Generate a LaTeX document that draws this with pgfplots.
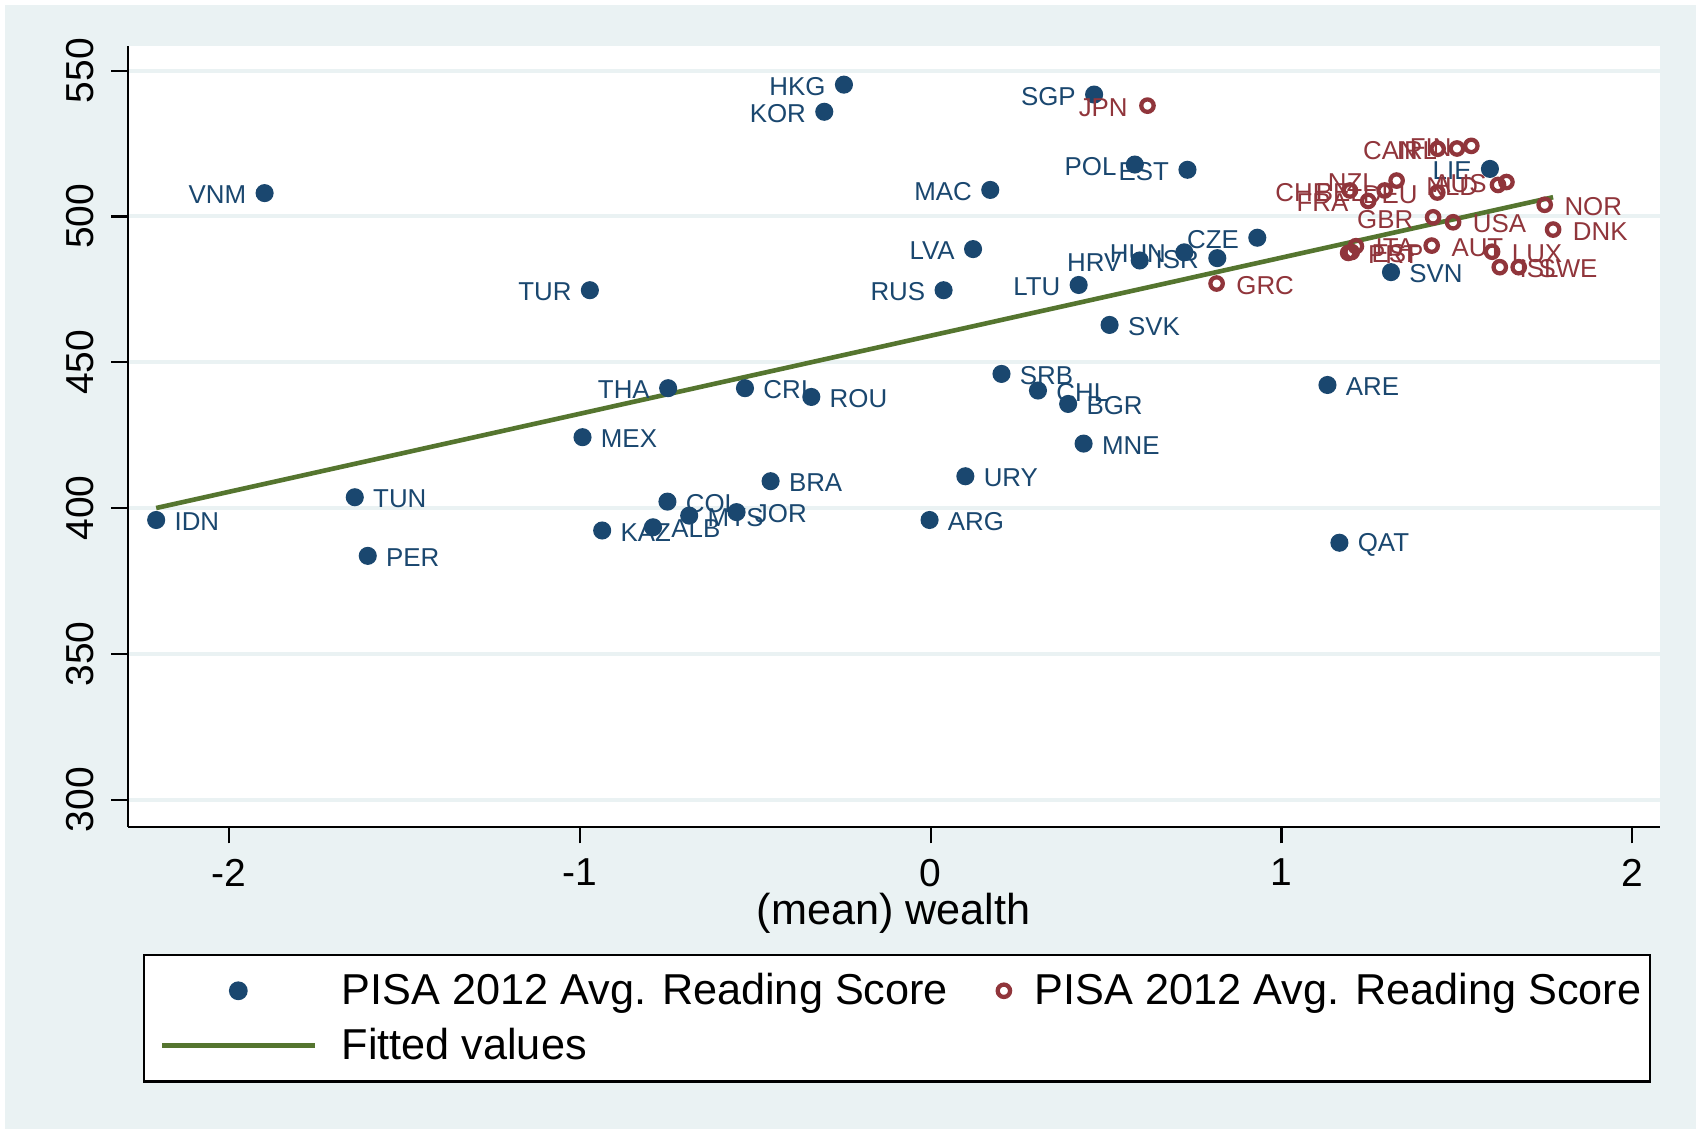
\documentclass[border=0pt]{standalone}
\usepackage{fontspec}
\setmainfont{Liberation Sans}
\usepackage{pgfplots}
\pgfplotsset{compat=1.18}
\definecolor{stnavy}{RGB}{26,71,111}
\definecolor{stmaroon}{RGB}{144,53,59}
\definecolor{stgreen}{RGB}{85,117,47}
\definecolor{stbg}{RGB}{234,242,243}
\newcommand\labfont{\fontsize{7.3}{8.6}\selectfont}
\newcommand\tickfont{\fontsize{11}{13}\selectfont}
\newcommand\bigfont{\fontsize{12.2}{14.5}\selectfont}
\pgfplotsset{
  dotleg/.style={legend image code/.code={\path (0pt,0pt); \draw[##1] plot coordinates {(23.5pt,0pt)}; \path (45pt,0pt);}},
  ringleg/.style={legend image code/.code={\draw[##1] plot coordinates {(0pt,0pt)};}},
  lineleg/.style={legend image code/.code={\path (0pt,0pt); \draw[##1] (2pt,0pt) -- (45pt,0pt);}},
}
\begin{document}
\begin{tikzpicture}
\fill[white] (0,0) rectangle (480pt,320pt);
\fill[stbg] (1.5pt,1.5pt) rectangle (478.5pt,318.5pt);
\begin{axis}[
  scale only axis, width=432.2pt, height=220.4pt,
  at={(36.1pt,86.7pt)}, anchor=south west,
  xmin=-2.2875, xmax=2.0773, ymin=290.7, ymax=558.56,
  axis background/.style={fill=white},
  axis x line*=bottom, axis y line*=left,
  axis line style={black, line width=0.6pt, -},
  tick align=outside, major tick length=4.7pt,
  tick style={black, line width=0.6pt},
  xtick={-2,-1,0,1,2}, xticklabels={-2,-1,0,1,2},
  ytick={300,350,400,450,500,550}, yticklabels={300,350,400,450,500,550},
  xticklabel style={font=\tickfont, inner sep=0pt, anchor=north},
  yticklabel style={font=\tickfont, inner sep=0pt, rotate=90, anchor=south},
  xticklabel shift=4.2pt, yticklabel shift=4.6pt,
  ymajorgrids, major grid style={stbg, line width=1.1pt},
  xlabel={(mean) wealth},
  xlabel style={font=\bigfont, at={(axis description cs:0.5,0)}, anchor=base, yshift=-27.5pt},
  legend columns=2,
  legend style={at={(axis description cs:0.00995,-0.1624)}, anchor=north west,
    draw=black, line width=0.6pt, fill=white, font=\bigfont,
    inner xsep=2.4pt, inner ysep=4.5pt, row sep=4pt,
    nodes={inner sep=0pt, text height=9.6pt, text depth=1.8pt},
    /tikz/every odd column/.append style={column sep=7pt},
    /tikz/every even column/.append style={column sep=14pt}},
  legend cell align=left,
]
\addplot[only marks, mark=*, mark size=2.35pt, color=stnavy, dotleg,
  nodes near coords, point meta=explicit symbolic,
  visualization depends on={value \thisrow{a} \as \lanchor},
  visualization depends on={value \thisrow{dx} \as \ldx},
  every node near coord/.append style={anchor=\lanchor, xshift=\ldx pt, yshift=-0.5pt, font=\labfont, text=stnavy, inner sep=0pt}]
table[x=x, y=y, meta=lab] {
lab x y a dx
HKG -0.247 545.2 east -5
KOR -0.303 535.9 east -5
VNM -1.898 508.0 east -5
SGP 0.466 541.8 east -5
MAC 0.170 509.1 east -5
POL 0.582 517.8 east -5
EST 0.732 516.0 east -5
LIE 1.594 516.3 east -5
CZE 0.931 492.7 east -5
LVA 0.121 488.8 east -5
HUN 0.723 487.7 east -5
HRV 0.596 484.9 east -5
ISR 0.817 485.7 east -5
LTU 0.422 476.5 east -5
TUR -0.971 474.7 east -5
RUS 0.037 474.7 east -5
SVK 0.510 462.8 west 5
SVN 1.312 480.9 west 5
ARE 1.131 442.2 west 5
SRB 0.202 446.0 west 5
CHL 0.306 440.3 west 5
BGR 0.392 435.7 west 5
THA -0.748 441.1 east -5
CRI -0.529 441.1 west 5
ROU -0.340 438.1 west 5
MEX -0.992 424.3 west 5
MNE 0.436 422.1 west 5
BRA -0.456 409.2 west 5
URY 0.099 410.9 west 5
TUN -1.641 403.7 west 5
COL -0.750 402.2 west 5
MYS -0.688 397.4 west 5
JOR -0.553 398.6 west 5
ALB -0.791 393.4 west 5
KAZ -0.936 392.3 west 5
IDN -2.207 395.9 west 5
ARG -0.003 395.9 west 5
PER -1.604 383.6 west 5
QAT 1.165 388.1 west 5
};
\addlegendentry{PISA 2012 Avg. Reading Score}
\addplot[only marks, mark=o, mark size=1.75pt, line width=1.2pt, color=stmaroon, ringleg,
  nodes near coords, point meta=explicit symbolic,
  visualization depends on={value \thisrow{a} \as \lanchor},
  visualization depends on={value \thisrow{dx} \as \ldx},
  every node near coord/.append style={anchor=\lanchor, xshift=\ldx pt, yshift=-0.5pt, font=\labfont, text=stmaroon, inner sep=0pt}]
table[x=x, y=y, meta=lab] {
lab x y a dx
JPN 0.618 538.0 east -5
GRC 0.815 477.0 west 5
CAN 1.445 523.2 east -5
IRL 1.500 523.3 east -5
FIN 1.541 524.2 east -5
NZL 1.328 512.3 east -5
CHE 1.195 508.9 east -5
BEL 1.294 508.9 east -5
DEU 1.444 508.2 east -5
FRA 1.247 505.3 east -5
NLD 1.617 510.8 east -5
AUS 1.641 511.8 east -5
NOR 1.750 504.0 west 5
GBR 1.432 499.7 east -5
USA 1.489 498.0 west 5
DNK 1.774 495.5 west 5
ITA 1.212 489.8 west 5
PRT 1.190 487.5 west 5
ESP 1.200 487.8 west 5
AUT 1.428 490.0 west 5
LUX 1.600 487.9 west 5
ISL 1.622 482.6 west 5
SWE 1.676 482.6 west 5
};
\addlegendentry{PISA 2012 Avg. Reading Score}
\addplot[stgreen, line width=1.3pt, no markers, lineleg]
coordinates {(-2.207,400.0) (1.774,506.6)};
\addlegendentry{Fitted values}
\end{axis}
\end{tikzpicture}
\end{document}
